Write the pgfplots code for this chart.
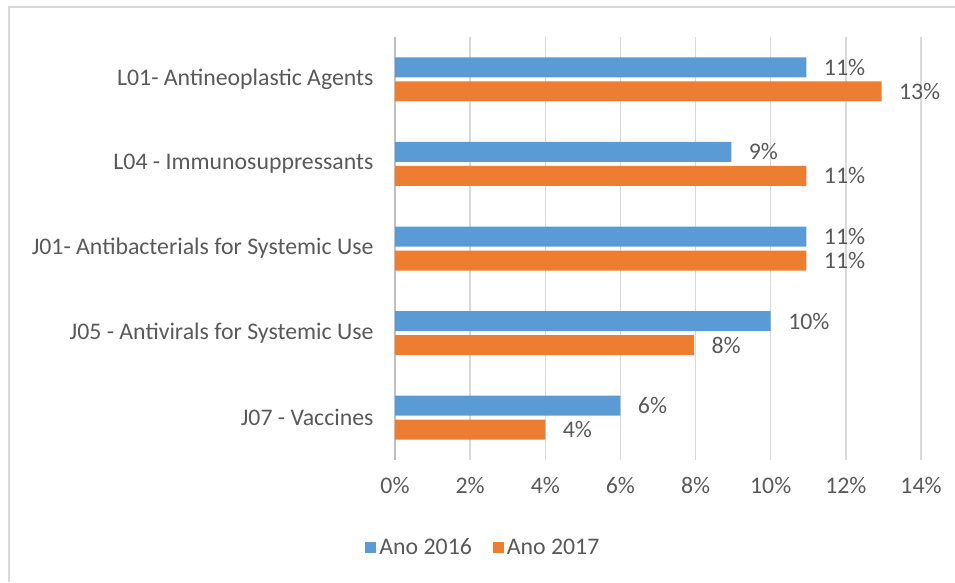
\documentclass[border=0pt]{standalone}
\usepackage{pgfplots}
\pgfplotsset{compat=1.18}
\usepackage{fontspec}
\setmainfont{Carlito}
\definecolor{c16}{HTML}{5B9BD5}
\definecolor{c17}{HTML}{ED7D31}
\definecolor{txt}{HTML}{595959}
\definecolor{gridc}{HTML}{D9D9D9}
\definecolor{axl}{HTML}{BFBFBF}
\newcommand{\fs}{\fontsize{23.8}{28}\selectfont}
\begin{document}
\begin{tikzpicture}
\path[use as bounding box] (0pt,0pt) rectangle (955pt,582pt);
\draw[gridc, line width=2pt] (9pt,0pt) -- (9pt,575pt) -- (955pt,575pt);
\begin{axis}[
  at={(395pt,122pt)}, anchor=south west,
  scale only axis, width=526pt, height=423pt,
  xbar, xmin=0, xmax=14, ymin=-0.5, ymax=4.5, y dir=reverse,
  bar width=20pt,
  axis x line=bottom, axis y line=left,
  axis line style={-},
  x axis line style={draw=none},
  y axis line style={axl, line width=1.5pt},
  xmajorgrids, major grid style={gridc, line width=1.5pt},
  major tick length=0pt,
  xtick={0,2,...,14},
  xticklabels={0\%,2\%,4\%,6\%,8\%,10\%,12\%,14\%},
  ytick={0,...,4},
  yticklabels={L01- Antineoplastic Agents, L04 - Immunosuppressants\ , J01- Antibacterials for Systemic Use, J05 - Antivirals for Systemic Use, J07 - Vaccines},
  tick label style={font=\fs, text=txt},
  xticklabel style={yshift=-14pt},
  yticklabel style={xshift=-18pt},
  /pgf/number format/assume math mode=true,
  nodes near coords={\pgfmathprintnumber[fixed,precision=0,assume math mode=true]{\pgfplotspointmeta}\%},
  nodes near coords style={font=\fs, text=txt, anchor=west, xshift=14pt},
  legend style={at={(0.169,-0.206)}, anchor=center, legend columns=2, draw=none, fill=none, font=\fs, text=txt,
    nodes={inner sep=3pt},
    /tikz/every even column/.append style={column sep=18pt}},
  legend image code/.code={\fill[#1] (0pt,-5.5pt) rectangle (11pt,5.5pt);},
]
\addplot[fill=c16, draw=none, bar shift=12pt] coordinates {(10.95,0) (8.95,1) (10.95,2) (10.0,3) (6.0,4)};
\addlegendentry{Ano 2016}
\addplot[fill=c17, draw=none, bar shift=-12pt] coordinates {(12.95,0) (10.95,1) (10.95,2) (7.96,3) (4.0,4)};
\addlegendentry{Ano 2017}
\end{axis}
\end{tikzpicture}
\end{document}
